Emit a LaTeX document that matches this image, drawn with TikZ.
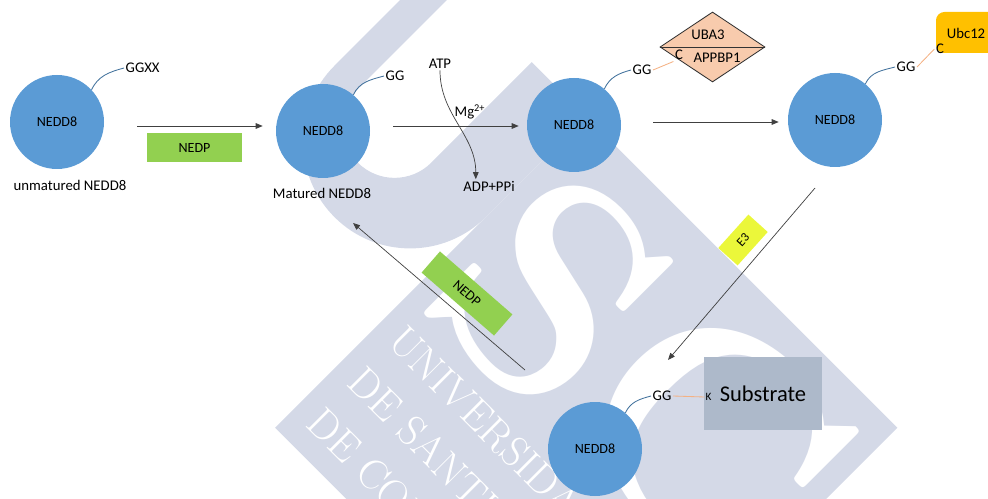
\documentclass[tikz,border=0pt]{standalone}
\usepackage{fontspec}
\newfontfamily\cali{Carlito}
\usetikzlibrary{arrows.meta,shapes.geometric}
\definecolor{wmgray}{RGB}{212,217,231}
\definecolor{neddblue}{RGB}{91,155,213}
\definecolor{tailblue}{RGB}{65,113,156}
\definecolor{linkorange}{RGB}{244,177,131}
\definecolor{peach}{RGB}{248,203,173}
\definecolor{ubcgold}{RGB}{255,192,0}
\definecolor{nedpgreen}{RGB}{146,208,80}
\definecolor{eyellow}{RGB}{235,247,58}
\definecolor{subgray}{RGB}{173,185,202}

\begin{document}
\begin{tikzpicture}[
    nedd/.style={circle, fill=neddblue, minimum size=2.35cm, inner sep=0pt, font=\cali\fontsize{10}{12}\selectfont},
    lbl/.style={inner sep=1pt, font=\cali\fontsize{10.5}{12}\selectfont},
    tail/.style={tailblue, line width=0.6pt},
    link/.style={linkorange, line width=0.6pt},
    arr/.style={black!75, line width=0.5pt, -{Triangle[length=5pt,width=4pt]}},
    enz/.style={inner sep=0pt, font=\cali\fontsize{10}{12}\selectfont}
  ]
  \useasboundingbox (0,0) rectangle (24.7,-12.475);
  \clip (0,0) rectangle (24.7,-12.475);

  % watermark in the back
  \begin{scope}[rotate=-45, transform shape, wmgray]
    \fill (12.425,-2.7) rectangle (23.425,8.3);
    \fill (7.075,13) -- (7.075,4.75) arc[start angle=180, end angle=360, radius=2.675]
      -- (12.425,8.3) -- (10.5,8.3) -- (10.5,4.75)
      arc[start angle=0, end angle=-180, radius=1.3] -- (7.9,13) -- cycle;
    \node[white, inner sep=0pt, font=\bfseries\fontsize{215}{215}\selectfont] (wmS) at (14.925,4.625) {S};
    \node[white, inner sep=0pt, font=\bfseries\fontsize{215}{215}\selectfont] (wmC) at (20.25,4.9) {C};
    \node[white, anchor=base west, inner sep=0pt, font=\fontsize{30}{30}\selectfont] (wm1) at (12.9,0.75) {UNIVERSIDADE};
    \node[white, anchor=base west, inner sep=0pt, font=\fontsize{30}{30}\selectfont] (wm2) at (12.9,-0.7) {DE SANTIAGO};
    \node[white, anchor=base west, inner sep=0pt, font=\fontsize{30}{30}\selectfont] (wm3) at (12.9,-2.15) {DE COMPOSTELA};
  \end{scope}

  % NEDD8 states
  \node[nedd] (n1) at (1.425,-3.05) {NEDD8};
  \node[nedd] (n2) at (8.075,-3.275) {NEDD8};
  \node[nedd] (n3) at (14.35,-3.125) {NEDD8};
  \node[nedd] (n4) at (20.875,-3.0) {NEDD8};
  \node[nedd] (n5) at (14.875,-11.225) {NEDD8};

  \node[lbl] (um) at (1.75,-4.625) {unmatured NEDD8};
  \node[lbl] (ma) at (8.05,-4.825) {Matured NEDD8};

  % C-terminal tails
  \node[lbl, right] (gg1) at (3.1,-1.7) {GGXX};
  \node[lbl, right] (gg2) at (9.6,-1.9) {GG};
  \node[lbl, right] (gg3) at (15.775,-1.75) {GG};
  \node[lbl, right] (gg4) at (22.375,-1.675) {GG};
  \node[lbl, right] (gg5) at (16.275,-9.9) {GG};
  \draw[tail] (n1.43) to[out=65,in=195] (gg1.west);
  \draw[tail] (n2.50) to[out=65,in=195] (gg2.west);
  \draw[tail] (n3.50) to[out=65,in=195] (gg3.west);
  \draw[tail] (n4.50) to[out=65,in=195] (gg4.west);
  \draw[tail] (n5.50) to[out=65,in=195] (gg5.west);

  % E1
  \node[diamond, draw=black!80, fill=peach, line width=0.6pt, minimum width=2.625cm, minimum height=1.75cm, inner sep=0pt] (uba) at (17.8125,-1.175) {};
  \draw[black!80, line width=0.6pt] (uba.west) -- (uba.east);
  \node[lbl] (uba3) at (17.7,-0.875) {UBA3};
  \node[lbl] (appbp1) at (17.925,-1.45) {APPBP1};
  \node[lbl] (cu) at (16.975,-1.375) {C};
  \draw[link] (gg3.east) -- (cu.south west);

  % E2
  \node[fill=ubcgold, rounded corners=6pt, minimum width=2cm, minimum height=1.025cm] (ubc) at (24.4,-0.8125) {};
  \node[lbl] (ubct) at (24.15,-0.825) {Ubc12};
  \node[lbl] (cc) at (23.5,-1.225) {C};
  \draw[link] (gg4.east) -- (cc.west);

  % substrate
  \node[fill=subgray, minimum width=2.95cm, minimum height=1.825cm, font=\cali\fontsize{16}{19}\selectfont] (sub) at (19.075,-9.8375) {Substrate};
  \node[inner sep=0.5pt, font=\cali\fontsize{8}{9}\selectfont] (kk) at (17.7125,-9.925) {K};
  \draw[link] (gg5.east) -- (kk.west);

  % ATP
  \node[lbl] (atp) at (11.0,-1.6) {ATP};
  \node[lbl] (mg) at (11.75,-2.8) {Mg\textsuperscript{2+}};
  \node[lbl] (adp) at (12.225,-4.65) {ADP+PPi};
  \draw[arr] (atp.south) to[out=-90,in=90] ([xshift=-0.33cm]adp.north);

  % reactions
  \coordinate (row1) at (0,-3.15);
  \coordinate (row2) at (0,-3.05);
  \draw[arr, shorten <=0.825cm, shorten >=0.325cm] (n1.east |- row1) -- (n2.west |- row1);
  \draw[arr, shorten <=0.575cm, shorten >=0.2cm] (n2.east |- row1) -- (n3.west |- row1);
  \draw[arr, shorten <=0.8cm, shorten >=0.225cm] (n3.east |- row2) -- (n4.west |- row2);
  \coordinate (e3s) at (20.375,-4.7);
  \coordinate (e3t) at (16.7,-9.0);
  \draw[arr] (e3s) -- (e3t);
  \coordinate (bks) at (13.125,-9.25);
  \coordinate (bkt) at (8.825,-5.575);
  \draw[arr] (bks) -- (bkt);

  % enzymes on arrows
  \node[enz, fill=nedpgreen, minimum width=2.375cm, minimum height=0.725cm] (nedp1) at (4.8625,-3.6875) {NEDP};
  \node[enz, fill=nedpgreen, minimum width=2.4cm, minimum height=0.7cm, rotate=-41] (nedp2) at (11.675,-7.3375) {NEDP};
  \node[enz, fill=eyellow, minimum width=1.125cm, minimum height=0.65cm, rotate=48, font=\cali\fontsize{9}{11}\selectfont] (e3) at (18.575,-6.0) {E3};
\end{tikzpicture}
\end{document}
